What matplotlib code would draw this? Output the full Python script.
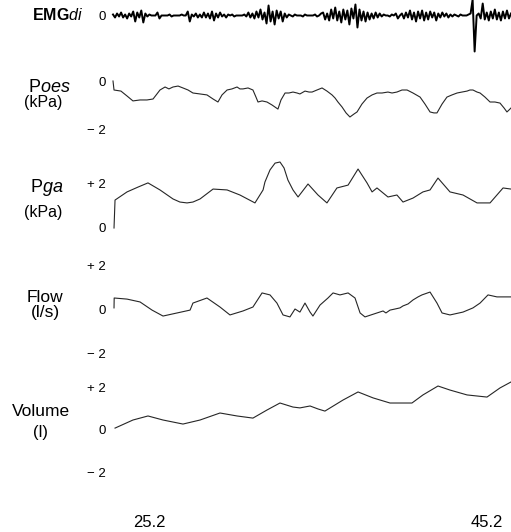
import numpy as np
import matplotlib
matplotlib.use("Agg")
import matplotlib.pyplot as plt

plt.rcParams['font.family'] = ['Liberation Sans', 'DejaVu Sans']
plt.rcParams['mathtext.fontset'] = 'custom'
plt.rcParams['mathtext.rm'] = 'Liberation Sans'
plt.rcParams['mathtext.bf'] = 'Liberation Sans:bold'
plt.rcParams['mathtext.it'] = 'Liberation Sans:italic'

# ---------------- data (time in s) ----------------
time_ticks = [25.2, 45.2]
time_labels = ["25.2", "45.2"]

# EMGdi raw signal (arbitrary units, evenly sampled between emg_start and emg_end)
emg_values = [
    1, -2, 2, -1, 3, -2, 1, -3, 2, -1, 4, -6, 3, -2, 5, -7, 2, -1, 1,
    0, 0, 0, 3, -3, 0, 0, 0, 0, 1, -1, 0, 0, 0, 0, 1, 0, 0,
    4, -6, 1, -1, 2, -2, 1, -2, 3, -2, 2, -3, 4, -5, 2, -2, 3, -1, 1, -2, 1, 0, 1, -1, 0, 0,
    0, 0, 1, -1, 3, -2,
    2, -3, 4, -2, 6, -4, 3, -8, 10, -6, 4, -9, 5, -3, 4, -6, 2, -2, 1,
    0, -1, 1, 0, 0, 0, -1, 1, 0, 0, 0, 0, 1, -1, 0, 2,
    3, -4, 2, -5, 6, -3, 8, -5, 4, -7, 6, -4, 5, -9, 7, -3, 11, -12, 6, -5, 4, -6, 3, -4, 2, -3, 3, -2, 2, -1, 1,
    0, 0, -1, 1, 0, 2, -3, 0,
    2, -3, 3, -2, 5, -4, 3, -6, 4, -3, 5, -5, 3, -4, 4, -2, 3, -5, 2, -2, 3, -1, 2, -2, 1, -1, 1, 0, -1, 1, 0, 0,
    0, 1, 2, 16, -36, 0,
    2, -3, 12, -4, 3, -5, 4, -3, 6, -4, 3, -5, 4, -3, 5, -3, 2,
]
emg_start, emg_end = 23.07, 46.62

poes_t = [23.07, 23.13, 23.54, 23.90, 24.25, 24.67, 25.08, 25.44, 25.67, 25.85,
          26.15, 26.38, 26.62, 26.92, 27.21, 27.51, 27.80, 28.22, 28.63, 28.99,
          29.28, 29.52, 29.82, 30.11, 30.41, 30.58, 30.76, 31.06, 31.35, 31.53,
          31.65, 31.89, 32.18, 32.48, 32.83, 33.01, 33.25, 33.48, 33.72, 33.96,
          34.13, 34.43, 34.67, 34.85, 35.14, 35.44, 35.73, 36.03, 36.21, 36.38,
          36.62, 36.86, 37.09, 37.33, 37.51, 37.80, 38.10, 38.40, 38.69, 38.99,
          39.34, 39.58, 39.87, 40.17, 40.47, 40.82, 41.24, 41.53, 41.83, 42.06,
          42.24, 42.54, 42.83, 43.13, 43.43, 43.72, 44.02, 44.19, 44.37, 44.61,
          44.79, 45.08, 45.38, 45.67, 45.97, 46.21, 46.38, 46.50, 46.62]
poes_v = [0, -0.375, -0.42, -0.625, -0.83, -0.79, -0.79, -0.75, -0.54, -0.375,
          -0.25, -0.33, -0.25, -0.21, -0.29, -0.375, -0.5, -0.54, -0.58, -0.75,
          -0.875, -0.58, -0.375, -0.33, -0.25, -0.33, -0.33, -0.29, -0.375, -0.67,
          -0.875, -0.83, -0.875, -1.0, -1.17, -0.79, -0.5, -0.5, -0.46, -0.5,
          -0.54, -0.42, -0.46, -0.46, -0.375, -0.29, -0.42, -0.58, -0.71, -0.875,
          -1.08, -1.33, -1.5, -1.375, -1.29, -0.96, -0.71, -0.58, -0.5, -0.5,
          -0.46, -0.5, -0.46, -0.375, -0.375, -0.5, -0.67, -0.96, -1.29, -1.33,
          -1.33, -0.96, -0.67, -0.58, -0.5, -0.46, -0.42, -0.375, -0.375, -0.46,
          -0.5, -0.67, -0.875, -0.875, -0.92, -1.125, -1.29, -1.21, -1.125]

pga_t = [23.13, 23.19, 23.90, 24.55, 25.14, 25.85, 26.62, 27.03, 27.45, 27.80,
         28.22, 28.99, 29.82, 30.58, 31.47, 31.95, 32.06, 32.36, 32.66, 32.95,
         33.19, 33.42, 33.72, 34.02, 34.61, 35.20, 35.73, 36.32, 36.98, 37.57,
         38.10, 38.40, 38.69, 39.34, 39.87, 40.23, 40.82, 41.41, 41.83, 42.30,
         43.01, 43.78, 44.61, 45.38, 46.15, 46.62]
pga_v = [0, 1.27, 1.64, 1.86, 2.05, 1.73, 1.32, 1.18, 1.14, 1.18,
         1.32, 1.77, 1.73, 1.5, 1.14, 1.73, 2.09, 2.64, 2.95, 3.0,
         2.73, 2.18, 1.73, 1.41, 2.0, 1.5, 1.14, 1.82, 1.95, 2.68,
         2.05, 1.64, 1.82, 1.41, 1.5, 1.18, 1.36, 1.64, 1.73, 2.27,
         1.64, 1.5, 1.14, 1.14, 1.82, 1.77]

flow_t = [23.13, 23.14, 23.90, 24.67, 25.38, 26.03, 26.86, 27.63, 27.80, 28.63,
          29.40, 29.99, 30.76, 31.35, 31.89, 32.36, 32.77, 33.13, 33.54, 33.84,
          34.13, 34.43, 34.73, 34.90, 35.32, 35.79, 36.09, 36.50, 36.98, 37.39,
          37.69, 37.98, 38.69, 39.05, 39.22, 39.46, 39.76, 40.05, 40.23, 40.53,
          40.82, 41.12, 41.35, 41.83, 42.24, 42.54, 43.01, 43.78, 44.37, 44.79,
          45.26, 45.79, 46.62]
flow_v = [0.05, 0.5, 0.45, 0.32, -0.05, -0.32, -0.18, -0.05, 0.27, 0.5,
          0.09, -0.27, -0.09, 0.09, 0.73, 0.64, 0.27, -0.27, -0.36, 0.0,
          -0.14, 0.27, -0.14, -0.32, 0.18, 0.5, 0.73, 0.64, 0.73, 0.5,
          -0.18, -0.36, -0.18, -0.09, -0.18, -0.05, 0.0, 0.05, 0.14, 0.23,
          0.41, 0.55, 0.64, 0.77, 0.27, -0.18, -0.27, -0.14, 0.05, 0.27,
          0.64, 0.55, 0.55]

vol_t = [23.19, 24.25, 25.14, 26.03, 27.21, 28.22, 29.40, 30.41, 31.35, 32.18,
         32.95, 33.72, 34.13, 34.73, 35.20, 35.61, 36.68, 37.57, 38.46, 39.46,
         40.76, 41.41, 42.30, 43.01, 44.02, 45.20, 45.97, 46.62]
vol_v = [0.09, 0.47, 0.66, 0.47, 0.28, 0.47, 0.80, 0.66, 0.56, 0.94,
         1.27, 1.08, 1.04, 1.13, 0.99, 0.89, 1.41, 1.79, 1.51, 1.27,
         1.27, 1.65, 2.07, 1.88, 1.65, 1.55, 1.98, 2.26]

# ---------------- layout ----------------
W, H = 511, 532
fig = plt.figure(figsize=(W / 100, H / 100), dpi=100)
fig.patch.set_facecolor('white')

X_LEFT = 113
t_left = 25.2 + (X_LEFT - 149) / 16.9
t_right = 25.2 + (W - 149) / 16.9


def trace_axes(y_zero, ppu, top, bottom):
    ax = fig.add_axes([X_LEFT / W, 1 - bottom / H, (W - X_LEFT) / W, (bottom - top) / H])
    ax.set_xlim(t_left, t_right)
    ax.set_ylim(-(bottom - y_zero) / ppu, (y_zero - top) / ppu)
    for s in ax.spines.values():
        s.set_visible(False)
    ax.set_facecolor('none')
    ax.set_xticks([])
    ax.tick_params(axis='y', length=0, pad=5, labelsize=9.5)
    return ax


def fig_text(x, y, s, size, **kw):
    fig.text(x / W, 1 - y / H, s, fontsize=size, ha='center', va='center', **kw)


line_kw = dict(color='#262626', lw=0.8, clip_on=False)

# EMG
ax0 = trace_axes(15.5, 1.0, 0, 58)
emg_t = np.linspace(emg_start, emg_end, len(emg_values))
ax0.plot(emg_t, emg_values, color='black', lw=1.4, clip_on=False)
ax0.set_yticks([0])
ax0.set_yticklabels(['0'])

# Poes
ax1 = trace_axes(81, 24, 58, 150)
ax1.plot(poes_t, poes_v, **line_kw)
ax1.set_yticks([0, -2])
ax1.set_yticklabels(['0', '\u2212 2'])

# Pga
ax2 = trace_axes(228, 22, 150, 250)
ax2.plot(pga_t, pga_v, **line_kw)
ax2.set_yticks([2, 0])
ax2.set_yticklabels(['+ 2', '0'])

# Flow
ax3 = trace_axes(309, 22, 250, 365)
ax3.plot(flow_t, flow_v, **line_kw)
ax3.set_yticks([2, 0, -2])
ax3.set_yticklabels(['+ 2', '0', '\u2212 2'])

# Volume
ax4 = trace_axes(430, 21.25, 365, 505)
ax4.plot(vol_t, vol_v, **line_kw)
ax4.set_yticks([2, 0, -2])
ax4.set_yticklabels(['+ 2', '0', '\u2212 2'])
ax4.set_xticks(time_ticks)
ax4.set_xticklabels(time_labels)
ax4.tick_params(axis='x', length=0, pad=7, labelsize=12)

# channel labels
fig_text(58, 15, r'$\mathbf{EMG}\mathit{di}$', 11.5)
fig_text(49, 87, r'P$\mathit{oes}$', 13)
fig_text(43, 102, '(kPa)', 11.5)
fig_text(47, 188, r'P$\mathit{ga}$', 13)
fig_text(43, 213, '(kPa)', 11.5)
fig_text(45, 297, 'Flow', 12.5)
fig_text(45, 312, '(l/s)', 12.5)
fig_text(41, 412, 'Volume', 12.5)
fig_text(40, 433, '(l)', 12)

fig.savefig('out.png', dpi=100, facecolor='white')
